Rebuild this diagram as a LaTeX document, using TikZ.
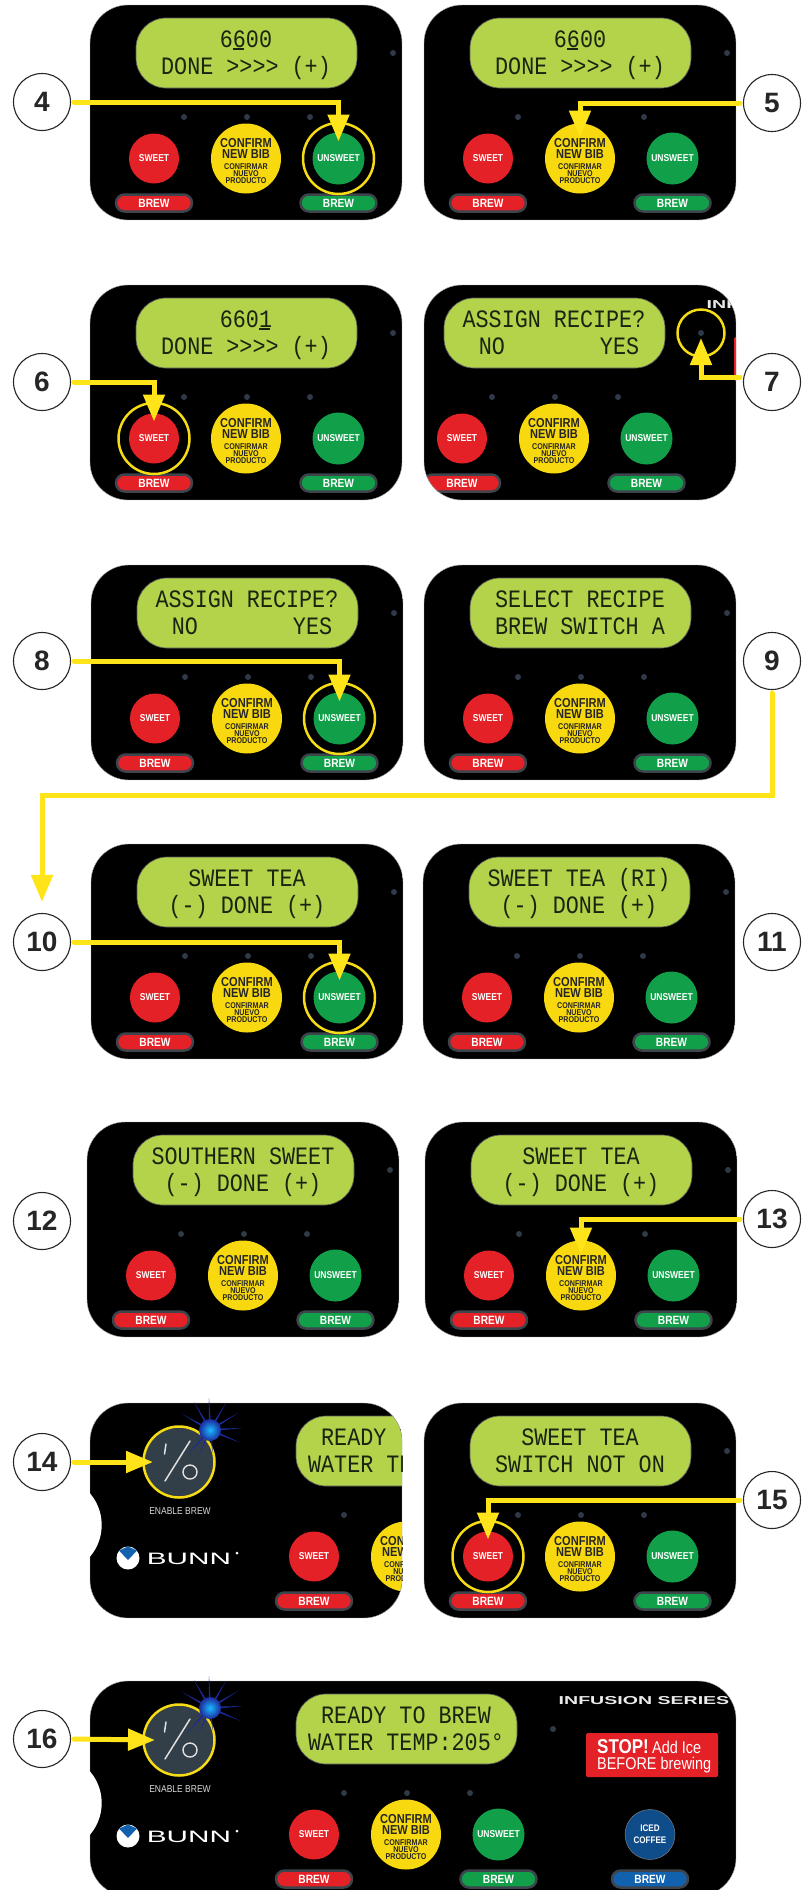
\documentclass[tikz,border=0pt]{standalone}
\usepackage{fontspec}
\setmainfont{Liberation Sans}
\newfontfamily\lcdfont[FakeStretch=0.87]{Liberation Mono}
\newfontfamily\narrowfont[FakeStretch=0.85]{Liberation Sans}
\usetikzlibrary{arrows.meta,calc}
\definecolor{lcdgreen}{HTML}{B2D34A}
\definecolor{lcdink}{HTML}{1A2410}
\definecolor{ledgrey}{HTML}{2F3A47}
\definecolor{pillrim}{HTML}{3D444C}
\definecolor{bred}{HTML}{E42127}
\definecolor{bgreen}{HTML}{119F49}
\definecolor{byellow}{HTML}{F8D90F}
\definecolor{bblue}{HTML}{1261AF}
\definecolor{bnavy}{HTML}{0F4C8A}
\definecolor{iobtn}{HTML}{323E48}
\definecolor{raycol}{HTML}{1C2A9C}
\definecolor{arrowyellow}{HTML}{FFE41A}
\definecolor{ringyellow}{HTML}{F5DC14}
\tikzset{
  x=1pt,y=-1pt,
  numcircle/.style={circle,draw=black!85,line width=1.1pt,fill=white,minimum size=57pt,inner sep=0pt,font=\bfseries\fontsize{28}{30}\selectfont,text=black!85},
  lcdbox/.style={rectangle,rounded corners=30pt,fill=lcdgreen,draw=black!65,line width=.7pt,minimum width=221pt,minimum height=70pt,inner sep=0pt},
  lcdline/.style={anchor=base,inner sep=0pt,text=lcdink,font=\lcdfont\fontsize{25}{27}\selectfont},
  ledmark/.style={circle,fill=ledgrey,minimum size=6pt,inner sep=0pt},
  roundbtn/.style={circle,fill=#1,minimum size=50pt,inner sep=0pt,text=white,font=\narrowfont\bfseries\fontsize{10}{11}\selectfont},
  brewpill/.style={rectangle,rounded corners=8.5pt,fill=#1,draw=pillrim,line width=2.5pt,minimum width=76pt,minimum height=17pt,inner sep=0pt,text=white,font=\narrowfont\bfseries\fontsize{12}{13}\selectfont},
  bigconfirm/.style={inner sep=0pt,align=center,text=black!85,font=\narrowfont\bfseries\fontsize{13}{11.7}\selectfont},
  smallconfirm/.style={inner sep=0pt,align=center,text=black!85,font=\narrowfont\bfseries\fontsize{8.4}{6.8}\selectfont},
  ringmark/.style={circle,draw=ringyellow,line width=2.5pt,minimum size=71pt,inner sep=0pt},
  conn/.style={draw=arrowyellow,line width=5pt,line cap=round,shorten <=3pt,-{Triangle[length=27pt,width=21pt]}},
}
\newcommand\lcdu[1]{\makebox[0pt][l]{\raisebox{-2.5pt}{\rule{11pt}{1.5pt}}}#1}
% id, x, y, shift, line 1, line 2, window width
\newcommand\ctlpanel[7]{%
  \begin{scope}[shift={(#2,#3)}]
    \begin{scope}
      \clip[rounded corners=38pt] (0,0) rectangle (#7,215);
      \fill[black] (0,0) rectangle (#7,215);
      \begin{scope}[shift={(-#4,0)}]
        \node[lcdbox] (#1-lcd) at (316.5,48) {};
        \node[lcdline] (#1-t1) at (316,42) {#5};
        \node[lcdline] (#1-t2) at (316,69) {#6};
        \node[ledmark] (#1-led) at (463,48) {};
        \node[ledmark] (#1-la) at (254,112) {};
        \node[ledmark] (#1-lb) at (317,112) {};
        \node[ledmark] (#1-lc) at (380,112) {};
        \node[roundbtn=bred] (#1-sweet) at (224,153.5) {SWEET};
        \node[roundbtn=byellow,minimum size=70pt] (#1-confirm) at (316,153.5) {};
        \node[bigconfirm] (#1-ca) at (316,143.5) {CONFIRM\\NEW BIB};
        \node[smallconfirm] (#1-cb) at (316,168.5) {CONFIRMAR\\NUEVO\\PRODUCTO};
        \node[brewpill=bred] (#1-bs) at (224,198) {BREW};
        \ifnum\numexpr#4+#7\relax>400
          \node[roundbtn=bgreen,minimum size=52pt] (#1-unsweet) at (408.5,153.5) {UNSWEET};
          \node[brewpill=bgreen] (#1-bu) at (408.5,198) {BREW};
        \fi
        \ifnum\numexpr#4+#7\relax>480
          \node[inner sep=0pt,text=black!8,font=\bfseries\fontsize{11.5}{12}\selectfont] (#1-inf) at (554,20) {\scalebox{1.7}[1]{INFUSION SERIES}};
          \fill[bred,rounded corners=1.5pt] (496,52) rectangle (628,96);
        \fi
        \ifnum\numexpr#4+#7\relax>600
          \node[inner sep=0pt,text=white,anchor=base west,font=\narrowfont] (#1-stopa) at (507,72) {\bfseries\fontsize{20}{22}\selectfont STOP!\,\mdseries\fontsize{17}{18}\selectfont Add Ice};
          \node[inner sep=0pt,text=white,anchor=base west,font=\narrowfont] (#1-stopb) at (507,88.5) {\fontsize{17}{18}\selectfont BEFORE brewing};
          \node[roundbtn=bnavy,draw=black!45,line width=.4pt,align=center,font=\narrowfont\bfseries\fontsize{9.5}{12}\selectfont] (#1-iced) at (560,153.5) {ICED\\COFFEE};
          \node[brewpill=bblue] (#1-bi) at (560,198) {BREW};
        \fi
        \ifnum#4=0
          \node[circle,fill=iobtn,draw=ringyellow,line width=2.5pt,minimum size=71pt,inner sep=0pt] (#1-io) at (89,59) {};
          \draw[black!12,line width=1.5pt,line cap=round] (#1-io.center) ++(-14,19) -- ++(25,-40);
          \draw[black!12,line width=1.5pt,line cap=round] (#1-io.center) ++(-13,-18) -- ++(-1.5,10);
          \draw[black!12,line width=1.4pt] (#1-io.center) ++(11,10) circle [radius=7];
          \node[inner sep=0pt,text=black!15,font=\narrowfont\fontsize{10}{11}\selectfont] (#1-en) at (90,108) {ENABLE BREW};
          \fill[white] (38,155) circle [radius=11.5];
          \fill[bblue] (29,147.5) -- (38,143.5) -- (47,147.5) -- (38,157) -- cycle;
          \node[inner sep=0pt,text=white,font=\fontsize{16.5}{17}\selectfont] (#1-bunn) at (99,156) {\scalebox{1.8}[1]{BUNN}};
          \fill[white] (147,150) circle [radius=1.5];
        \fi
      \end{scope}
    \end{scope}
    \draw[black!35,line width=.4pt,rounded corners=38pt] (0,0) rectangle (#7,215);
    \ifnum#4=0
      \fill[white] (-37,122) circle [radius=48.7];
      \coordinate (#1-burst) at (120,27);
      \foreach \dx/\dy in {-1/-32,-16/-28,16/-27,-28/-16,28/-17,33/-2,31/13,-23/25,-10/23,3/23,-14/9} {
        \coordinate (#1-tip) at ($(#1-burst)+(\dx,\dy)$);
        \fill[raycol] ($(#1-burst)!1.3pt!90:(#1-tip)$) -- (#1-tip) -- ($(#1-burst)!1.3pt!-90:(#1-tip)$) -- cycle;
      }
      \shade[inner color=cyan!70!blue!90!white,outer color=raycol] (#1-burst) circle [radius=11];
    \fi
  \end{scope}%
}
\begin{document}
\begin{tikzpicture}
\useasboundingbox (0,0) rectangle (801,1890);
\fill[white] (0,0) rectangle (801,1890);

\ctlpanel{p4}{90}{5}{160}{6\lcdu{6}00}{DONE >>>> (+)}{312}
\ctlpanel{p5}{424}{5}{160}{6\lcdu{6}00}{DONE >>>> (+)}{312}
\ctlpanel{p6}{90}{285}{160}{660\lcdu{1}}{DONE >>>> (+)}{312}
\ctlpanel{p7}{424}{285}{186}{ASSIGN RECIPE?}{\hspace{10pt}NO\hspace{95pt}YES}{312}
\ctlpanel{p8}{91}{565}{160}{ASSIGN RECIPE?}{\hspace{10pt}NO\hspace{95pt}YES}{312}
\ctlpanel{p9}{424}{565}{160}{SELECT RECIPE}{BREW SWITCH A}{312}
\ctlpanel{p10}{91}{844}{160}{SWEET TEA}{(-) DONE (+)}{312}
\ctlpanel{p11}{423}{844}{160}{SWEET TEA (RI)}{(-) DONE (+)}{312}
\ctlpanel{p12}{87}{1122}{160}{SOUTHERN SWEET}{(-) DONE (+)}{312}
\ctlpanel{p13}{425}{1122}{160}{SWEET TEA}{(-) DONE (+)}{312}
\ctlpanel{p14}{90}{1403}{0}{READY TO BREW}{WATER TEMP:205°}{312}
\ctlpanel{p15}{424}{1403}{160}{SWEET TEA}{SWITCH NOT ON}{312}
\ctlpanel{p16}{90}{1681}{0}{READY TO BREW}{WATER TEMP:205°}{646}

\node[numcircle] (n4) at (42,102) {4};
\node[numcircle] (n5) at (772,103) {5};
\node[numcircle] (n6) at (42,382) {6};
\node[numcircle] (n7) at (772,382) {7};
\node[numcircle] (n8) at (42,661) {8};
\node[numcircle] (n9) at (772,661) {9};
\node[numcircle] (n10) at (42,942) {10};
\node[numcircle] (n11) at (772,942) {11};
\node[numcircle] (n12) at (42,1221) {12};
\node[numcircle] (n13) at (772,1219) {13};
\node[numcircle] (n14) at (42,1462) {14};
\node[numcircle] (n15) at (772,1500) {15};
\node[numcircle] (n16) at (42,1739) {16};

\node[ringmark] (r4) at (p4-unsweet) {};
\node[ringmark] (r6) at (p6-sweet) {};
\node[ringmark,minimum size=47pt] (r7) at (p7-led) {};
\node[ringmark] (r8) at (p8-unsweet) {};
\node[ringmark] (r10) at (p10-unsweet) {};
\node[ringmark] (r15) at (p15-sweet) {};

\draw[conn] (n4.east) -| ($(p4-unsweet.center)+(0,-17)$);
\draw[conn] (n5.west) -| ($(p5-confirm.center)+(0,-21)$);
\draw[conn] (n6.east) -| ($(p6-sweet.center)+(0,-17)$);
\draw[conn] ($(n7.west)+(0,-5)$) -| ($(p7-led.center)+(0,5)$);
\draw[conn] (n8.east) -| ($(p8-unsweet.center)+(0,-17)$);
\coordinate (c9) at (42,795);
\draw[conn] (n9.south) |- (c9) -- ($(n10.north)+(0,-11)$);
\draw[conn] (n10.east) -| ($(p10-unsweet.center)+(0,-17)$);
\draw[conn] (n13.west) -| ($(p13-confirm.center)+(0,-21)$);
\draw[conn] (n14.east) -- ($(p14-io.center)+(-26,0)$);
\draw[conn] (n15.west) -| ($(p15-sweet.center)+(0,-17)$);
\draw[conn] (n16.east) -- ($(p16-io.center)+(-24,0)$);
\end{tikzpicture}
\end{document}
